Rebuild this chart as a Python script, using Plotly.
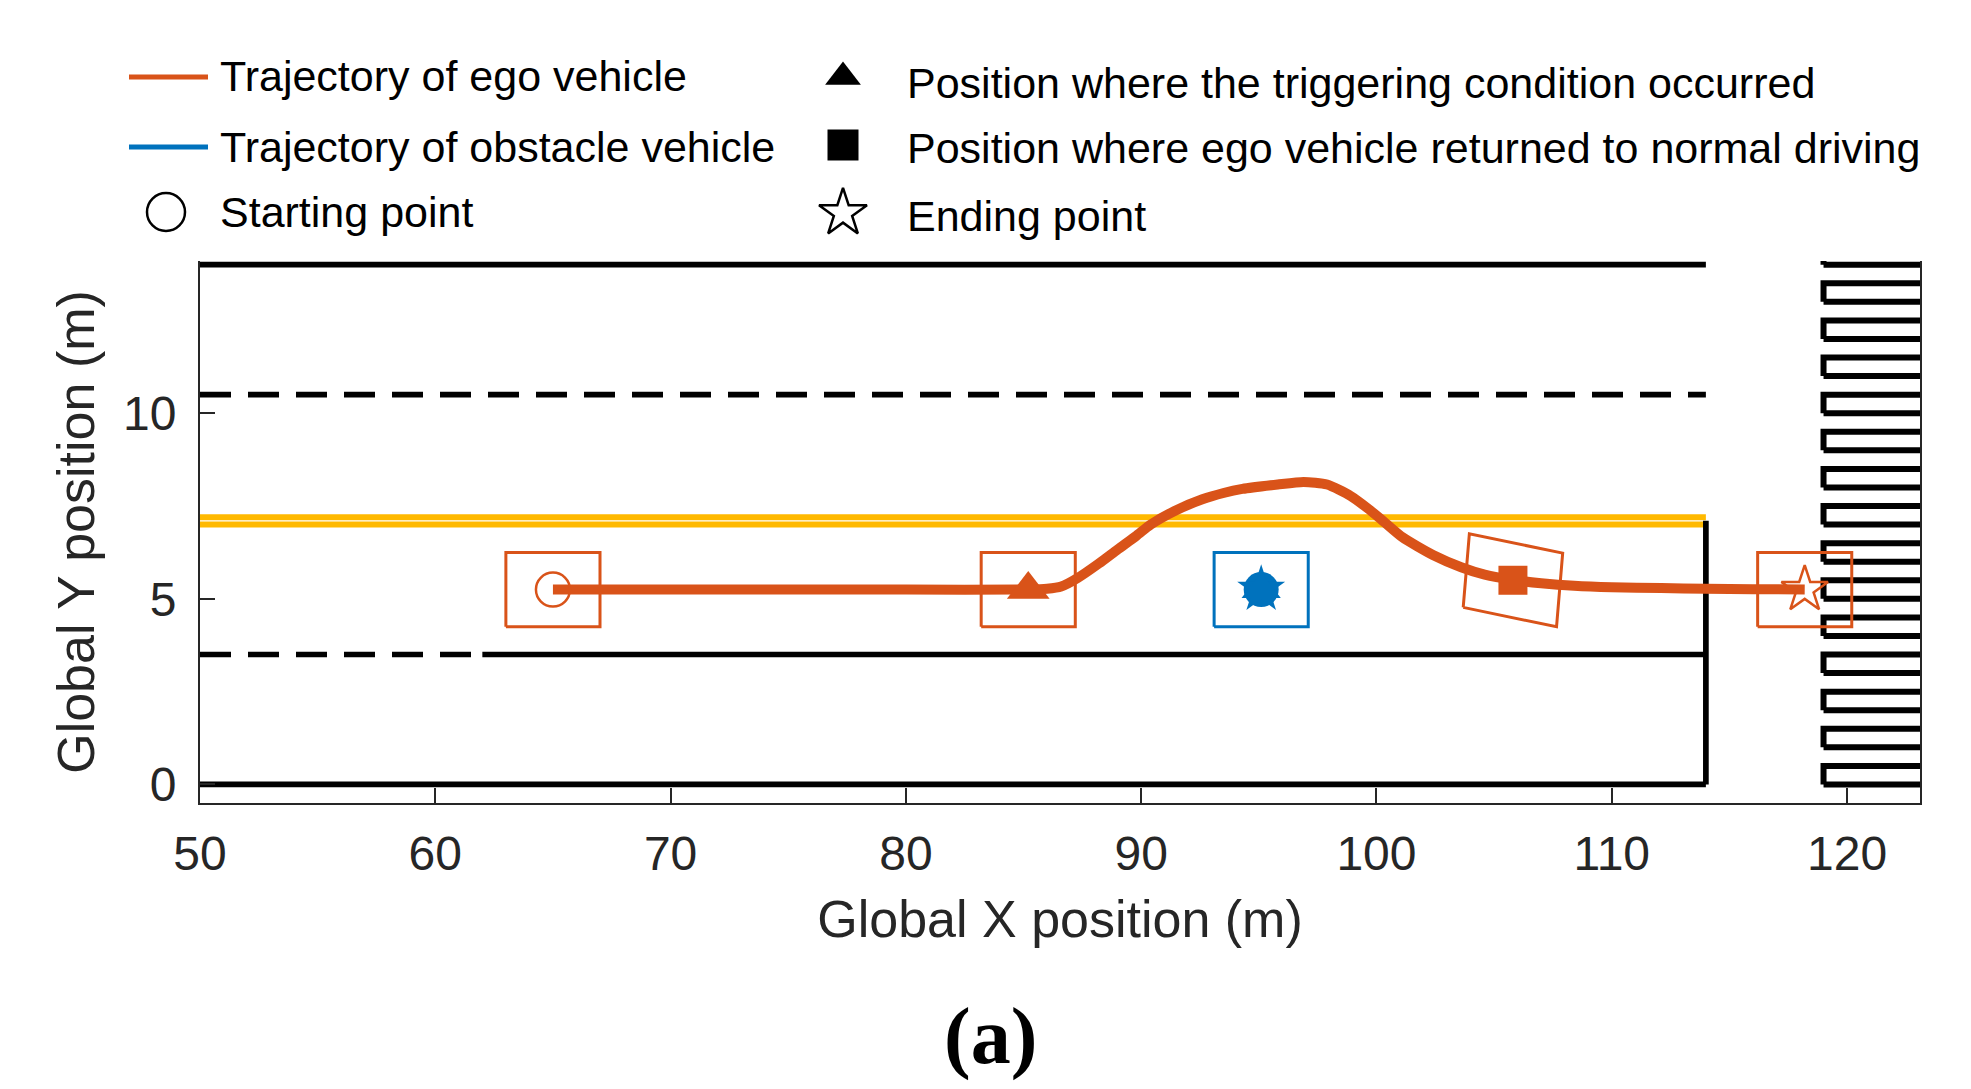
import math
import plotly.graph_objects as go

# ---------------- data ----------------
# ego vehicle trajectory (m)
ego_x = [65.0, 70.0, 75.0, 80.0, 85.2, 86.0, 86.6, 87.3, 88.2, 89.0, 89.8, 90.4, 91.4,
         92.6, 93.5, 94.3, 95.8, 96.9, 97.9, 98.9, 99.6, 100.2, 101.1, 102.4, 103.6,
         104.6, 105.8, 107.0, 108.4, 110.0, 112.1, 114.0, 116.0, 118.2]
ego_y = [5.25, 5.25, 5.25, 5.25, 5.25, 5.27, 5.33, 5.56, 5.95, 6.33, 6.70, 7.00, 7.36,
         7.68, 7.85, 7.96, 8.08, 8.15, 8.08, 7.77, 7.45, 7.14, 6.66, 6.18, 5.85,
         5.65, 5.51, 5.42, 5.35, 5.31, 5.29, 5.27, 5.26, 5.25]

# key ego positions: start, trigger, return, end
ego_key_x = [65.0, 85.2, 105.8, 118.2]
ego_key_y = [5.25, 5.25, 5.50, 5.25]
ego_key_heading = [0.0, 0.0, -7.5, 0.0]   # deg

# obstacle vehicle (stationary)
obs_x = [95.1]
obs_y = [5.25]
obs_heading = [0.0]

VEH_LEN = 4.0
VEH_WID = 2.0

# road geometry
ROAD_X = [50, 114]
BOUNDARY_Y = [0, 14]
DASH_LANE_Y = 10.5
SPLIT_LANE_Y = 3.5
SPLIT_X = 62
CENTER_Y = [7.0, 7.2]
ROAD_END_X = 114
ROAD_END_TOP = 7.1
CROSS_X = [119, 125]
CROSS_Y0 = list(range(0, 15))
CROSS_H = 0.5

X_TICKS = [50, 60, 70, 80, 90, 100, 110, 120]
Y_TICKS = [0, 5, 10]
X_RANGE = [50, 123.1]
Y_RANGE = [-0.5, 14.1]

# ---------------- style ----------------
ORANGE = "#D95319"
BLUE = "#0072BD"
YELLOW = "#FFB900"
AXC = "#262626"
FONT = "Liberation Sans, Arial, Helvetica, sans-serif"
W, H = 1971, 1089
PL, PR, PT, PB = 200, 1920, 261, 803

fig = go.Figure()


def line(x, y, color="black", width=5.7, dash=None):
    fig.add_trace(go.Scatter(x=x, y=y, mode="lines", hoverinfo="skip", showlegend=False,
                             line=dict(color=color, width=width, dash=dash)))


# road boundaries
for yb in BOUNDARY_Y:
    line(ROAD_X, [yb, yb])
line(ROAD_X, [DASH_LANE_Y, DASH_LANE_Y], dash="31px,17px")
line([ROAD_X[0], SPLIT_X], [SPLIT_LANE_Y, SPLIT_LANE_Y], dash="31px,17px")
line([SPLIT_X, ROAD_X[1]], [SPLIT_LANE_Y, SPLIT_LANE_Y])
for yc in CENTER_Y:
    line(ROAD_X, [yc, yc], color=YELLOW, width=6)
line([ROAD_END_X, ROAD_END_X], [BOUNDARY_Y[0], ROAD_END_TOP])

# crosswalk
cx, cy = [], []
for k in CROSS_Y0:
    cx += [CROSS_X[0], CROSS_X[1], CROSS_X[1], CROSS_X[0], CROSS_X[0], None]
    cy += [k, k, k + CROSS_H, k + CROSS_H, k, None]
line(cx, cy, width=6)


def box(xc, yc, hdg_deg):
    t = math.radians(hdg_deg)
    c, s = math.cos(t), math.sin(t)
    pts = [(-VEH_LEN / 2, -VEH_WID / 2), (VEH_LEN / 2, -VEH_WID / 2),
           (VEH_LEN / 2, VEH_WID / 2), (-VEH_LEN / 2, VEH_WID / 2), (-VEH_LEN / 2, -VEH_WID / 2)]
    return ([xc + p * c - q * s for p, q in pts], [yc + p * s + q * c for p, q in pts])


for xk, yk, hk in zip(ego_key_x, ego_key_y, ego_key_heading):
    bx, by = box(xk, yk, hk)
    line(bx, by, color=ORANGE, width=3)
for xk, yk, hk in zip(obs_x, obs_y, obs_heading):
    bx, by = box(xk, yk, hk)
    line(bx, by, color=BLUE, width=3)

# trajectories
fig.add_trace(go.Scatter(x=ego_x, y=ego_y, mode="lines", name="Trajectory of ego vehicle",
                         line=dict(color=ORANGE, width=10, shape="spline", smoothing=0.6),
                         showlegend=False))
fig.add_trace(go.Scatter(x=obs_x, y=obs_y, mode="lines+markers", name="Trajectory of obstacle vehicle",
                         line=dict(color=BLUE, width=10),
                         marker=dict(symbol="circle", size=35, color=BLUE), showlegend=False))
fig.add_trace(go.Scatter(x=obs_x, y=obs_y, mode="markers", showlegend=False, hoverinfo="skip",
                         marker=dict(symbol="star", size=36, color=BLUE)))
fig.add_trace(go.Scatter(x=obs_x, y=obs_y, mode="markers", showlegend=False, hoverinfo="skip",
                         marker=dict(symbol="triangle-up", size=34, color=BLUE)))

# key markers
key_symbols = ["circle-open", "triangle-up", "square", "star-open"]
key_sizes = [34, 37, 29, 35]
key_lw = [2.5, 0, 0, 2.5]
key_names = ["Starting point", "Position where the triggering condition occurred",
             "Position where ego vehicle returned to normal driving", "Ending point"]
for xk, yk, sym, sz, lw, nm in zip(ego_key_x, ego_key_y, key_symbols, key_sizes, key_lw, key_names):
    fig.add_trace(go.Scatter(x=[xk], y=[yk], mode="markers", name=nm, showlegend=False,
                             marker=dict(symbol=sym, size=sz, color=ORANGE,
                                         line=dict(color=ORANGE, width=lw))))

# ---------------- manual legend (pixel coordinates on a full-page overlay) ----------------
def pxx(px):
    return px / W


def pxy(py):
    return 1 - py / H


legend_lines = [(ORANGE, 77, "Trajectory of ego vehicle", 76),
                (BLUE, 147, "Trajectory of obstacle vehicle", 147)]
for col, yl, txt, yt in legend_lines:
    fig.add_shape(type="line", xref="paper", yref="paper", x0=pxx(129), x1=pxx(208),
                  y0=pxy(yl), y1=pxy(yl), line=dict(color=col, width=5))
    fig.add_annotation(xref="paper", yref="paper", x=pxx(218), y=pxy(yt), text=txt,
                       showarrow=False, xanchor="left", yanchor="middle",
                       font=dict(family=FONT, size=43, color="black"))

leg_markers = [(166, 212, "circle-open", 38, 2.5, "Starting point", 218, 212),
               (843, 77, "triangle-up", 31, 0, "Position where the triggering condition occurred", 905, 83),
               (843, 145, "square", 31, 0, "Position where ego vehicle returned to normal driving", 905, 148),
               (843, 213, "star-open", 36, 2.5, "Ending point", 905, 216)]
for xm, ym, sym, sz, lw, txt, xt, yt in leg_markers:
    fig.add_trace(go.Scatter(x=[xm], y=[ym], xaxis="x2", yaxis="y2", mode="markers",
                             showlegend=False, hoverinfo="skip", cliponaxis=False,
                             marker=dict(symbol=sym, size=sz, color="black",
                                         line=dict(color="black", width=lw))))
    fig.add_annotation(xref="paper", yref="paper", x=pxx(xt), y=pxy(yt), text=txt,
                       showarrow=False, xanchor="left", yanchor="middle",
                       font=dict(family=FONT, size=43, color="black"))

fig.add_annotation(xref="paper", yref="paper", x=pxx(990), y=pxy(1036), text="<b>(a)</b>",
                   showarrow=False, xanchor="center", yanchor="middle",
                   font=dict(family="Liberation Serif, Times New Roman, serif", size=80, color="black"))

# ---------------- layout ----------------
fig.update_layout(
    width=W, height=H,
    margin=dict(l=0, r=0, t=0, b=0, pad=0, autoexpand=False),
    paper_bgcolor="white", plot_bgcolor="rgba(0,0,0,0)",
    showlegend=False,
    font=dict(family=FONT, color=AXC),
    xaxis=dict(domain=[PL / W, PR / W], range=X_RANGE, tickvals=X_TICKS, showgrid=False,
               zeroline=False, showline=True, linecolor=AXC, linewidth=2, ticks="inside",
               ticklen=15, tickwidth=2, tickcolor=AXC, tickfont=dict(size=48, color=AXC),
               ticklabelstandoff=7, anchor="y", automargin=False,
               title=dict(text="Global X position (m)", font=dict(size=52, color=AXC), standoff=22)),
    yaxis=dict(domain=[1 - PB / H, 1 - PT / H], range=Y_RANGE, tickvals=Y_TICKS, showgrid=False,
               zeroline=False, showline=True, mirror=True, linecolor=AXC, linewidth=2,
               ticks="inside", ticklen=15, tickwidth=2, tickcolor=AXC,
               tickfont=dict(size=48, color=AXC), ticklabelstandoff=12, anchor="x",
               automargin=False,
               title=dict(text="Global Y position (m)", font=dict(size=52, color=AXC), standoff=12)),
    xaxis2=dict(domain=[0, 1], range=[0, W], visible=False, anchor="y2", fixedrange=True,
                automargin=False),
    yaxis2=dict(domain=[0, 1], range=[H, 0], visible=False, anchor="x2", fixedrange=True,
                automargin=False),
)

fig.write_html("out.html", config={"displayModeBar": False},
               post_script="document.body.style.margin='0';document.body.style.padding='0';")
